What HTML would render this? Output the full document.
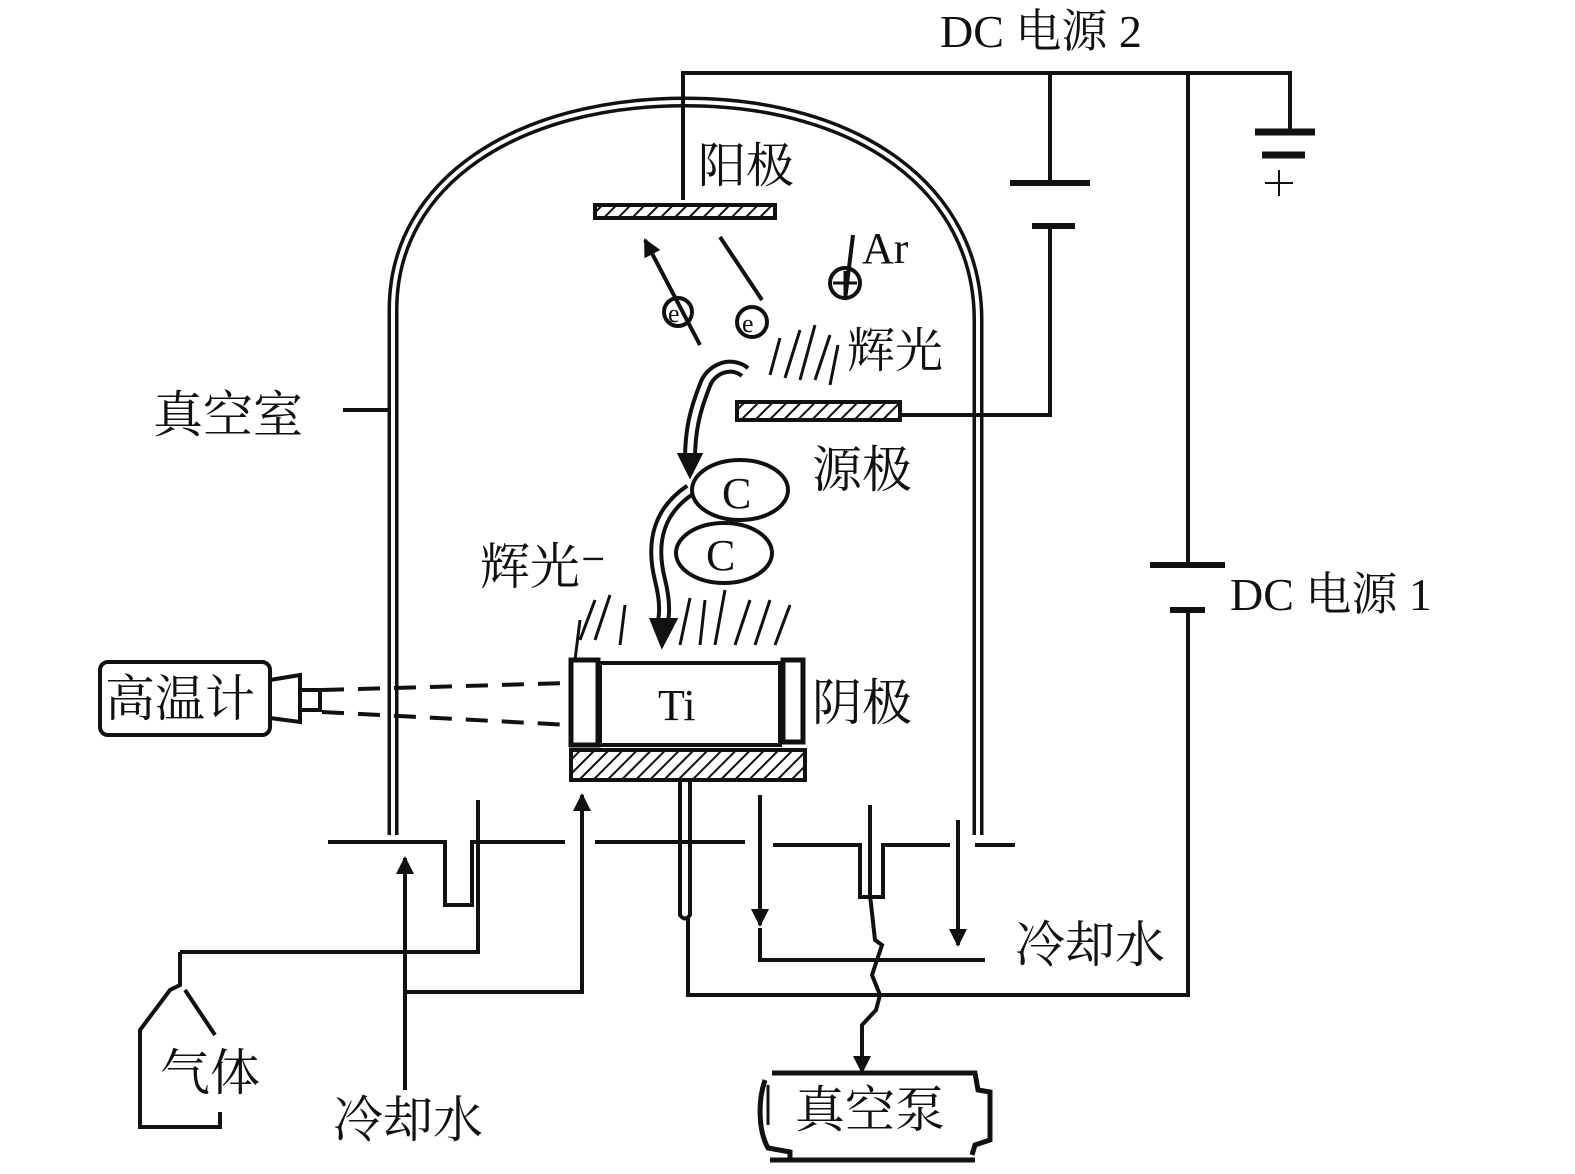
<!DOCTYPE html>
<html><head><meta charset="utf-8"><style>
html,body{margin:0;padding:0;background:#fff;}
svg{display:block}
text{font-family:"Liberation Serif","Noto Serif CJK SC",serif;fill:#111}
</style></head><body>
<svg width="1575" height="1174" viewBox="0 0 1575 1174" xmlns="http://www.w3.org/2000/svg">
<defs>
<pattern id="h" width="10" height="10" patternUnits="userSpaceOnUse" patternTransform="rotate(45)">
<rect width="10" height="10" fill="#fff"/><line x1="0" y1="0" x2="0" y2="10" stroke="#111" stroke-width="4"/></pattern>
<marker id="a" markerUnits="userSpaceOnUse" markerWidth="20" markerHeight="20" refX="16" refY="9" orient="auto"><path d="M0,0 L18,9 L0,18 z" fill="#111"/></marker>
</defs>
<g fill="none" stroke="#111" stroke-width="4">
<!-- dome -->
<path d="M393,835 L393,310 C393,180 520,102 685,102 C860,102 978,190 978,320 L978,835" stroke-width="11"/>
<path d="M393,835 L393,310 C393,180 520,102 685,102 C860,102 978,190 978,320 L978,835" stroke="#fff" stroke-width="4"/>
<!-- base line -->
<path d="M328,842 L445,842 L445,905 L472,905 L472,842 L565,842"/>
<path d="M478,800 L478,952 L180,952"/>
<path d="M595,842 L745,842"/>
<path d="M773,845 L860,845 L860,897 L883,897 L883,845 L950,845"/>
<path d="M975,845 L1015,845"/>
<path d="M870,805 L870,895"/>
<!-- top wires -->
<path d="M683,200 L683,73 L1290,73 L1290,130"/>
<path d="M1050,73 L1050,183"/>
<path d="M1010,183 L1090,183" stroke-width="6"/>
<path d="M1032,226 L1075,226" stroke-width="6"/>
<path d="M1050,226 L1050,415 L900,415"/>
<path d="M1188,73 L1188,565"/>
<path d="M1150,565 L1225,565" stroke-width="6"/>
<path d="M1170,610 L1205,610" stroke-width="6"/>
<path d="M1188,610 L1188,995 L688,995 L688,918"/>
<path d="M1255,132 L1315,132" stroke-width="7"/>
<path d="M1262,155 L1305,155" stroke-width="7"/>
<path d="M1265,183 L1293,183 M1279,170 L1279,196" stroke-width="2"/>
<!-- vacuum label line -->
<path d="M343,410 L390,410"/>
<!-- electrons/arrows -->
<path d="M700,345 L645,240" marker-end="url(#a)"/>
<path d="M762,300 L720,237"/>
<path d="M845,300 L853,235"/>
<circle cx="678" cy="312" r="14"/><text x="668" y="322" font-size="26" stroke="none">e</text>
<circle cx="752" cy="322" r="15"/><text x="742" y="332" font-size="26" stroke="none">e</text>
<circle cx="845" cy="283" r="15"/><path d="M833,283 L857,283 M845,271 L845,295" stroke-width="3"/>
<!-- glow strokes -->
<path d="M770,375 L780,338 M785,378 L800,330 M800,380 L815,325 M815,380 L830,335 M830,385 L838,345" stroke-width="3"/>
<path d="M580,640 L595,600 M595,640 L610,595 M620,645 L625,605 M680,645 L690,598 M700,645 L705,600 M715,645 L725,590 M735,645 L750,600 M755,645 L770,600 M775,645 L790,605 M575,660 L580,620" stroke-width="3"/>
<!-- curved flows -->
<path d="M745,372 C730,360 710,370 705,385 C695,410 690,430 690,460" stroke-width="14"/>
<path d="M745,372 C730,360 710,370 705,385 C695,410 690,430 690,460" stroke="#fff" stroke-width="6"/>
<path d="M680,455 L700,455 L690,475 z" fill="#111"/>
<path d="M690,490 C660,510 650,540 660,580 C665,600 665,615 662,625" stroke-width="14"/>
<path d="M690,490 C660,510 650,540 660,580 C665,600 665,615 662,625" stroke="#fff" stroke-width="6"/>
<path d="M652,620 L675,620 L662,645 z" fill="#111"/>
<ellipse cx="740" cy="490" rx="48" ry="30"/>
<ellipse cx="724" cy="553" rx="48" ry="30"/>
<!-- electrodes -->
<rect x="595" y="205" width="180" height="13" fill="url(#h)"/>
<rect x="737" y="402" width="163" height="18" fill="url(#h)"/>
<!-- Ti -->
<rect x="600" y="663" width="180" height="82"/>
<rect x="571" y="660" width="27" height="85" stroke-width="5"/>
<rect x="783" y="660" width="20" height="82" stroke-width="5"/>
<rect x="571" y="750" width="234" height="30" fill="url(#h)"/>
<!-- pyrometer -->
<rect x="100" y="662" width="170" height="73" rx="8"/>
<path d="M270,680 L300,675 L300,722 L270,718 M300,690 L320,690 L320,710 L300,710"/>
<path d="M322,690 L570,683 M322,712 L570,725" stroke-dasharray="22,14"/>
<!-- cooling water left -->
<path d="M405,1090 L405,858" marker-end="url(#a)"/>
<path d="M405,992 L582,992 L582,795" marker-end="url(#a)"/>
<!-- gas bottle -->
<path d="M180,952 L180,985 L170,990 L140,1030 L140,1127 L220,1127 L220,1112 M185,990 L215,1035"/>
<!-- cathode stem -->
<path d="M680,780 L680,915 Q685,922 690,915 L690,780"/>
<path d="M760,795 L760,925" marker-end="url(#a)"/>
<path d="M760,928 L760,960 L985,960"/>
<path d="M958,820 L958,945" marker-end="url(#a)"/>
<path d="M870,895 L875,940 L882,945 L872,975 L880,995 L876,1010 L862,1025 L862,1072" marker-end="url(#a)"/>
<!-- vacuum pump -->
<path d="M772,1073 L975,1073 L978,1090 L990,1092 L990,1140 L975,1145 L972,1155 M765,1080 C758,1100 758,1130 768,1148 L790,1152 L790,1160 M770,1160 L975,1160" stroke-width="5"/>
<path d="M768,1085 L768,1125" stroke-width="3"/>
</g>
<g stroke="none">
<text x="940" y="47" font-size="46">DC 电源 2</text>
<text x="698" y="182" font-size="48">阳极</text>
<text x="862" y="263" font-size="44">Ar</text>
<text x="847" y="367" font-size="48">辉光</text>
<text x="153" y="432" font-size="50">真空室</text>
<text x="812" y="487" font-size="50">源极</text>
<text x="722" y="508" font-size="44">C</text>
<text x="706" y="570" font-size="44">C</text>
<text x="480" y="584" font-size="50">辉光⁻</text>
<text x="1230" y="610" font-size="46">DC 电源 1</text>
<text x="812" y="720" font-size="50">阴极</text>
<text x="658" y="720" font-size="44">Ti</text>
<text x="105" y="716" font-size="50">高温计</text>
<text x="1015" y="962" font-size="50">冷却水</text>
<text x="333" y="1137" font-size="50">冷却水</text>
<text x="160" y="1090" font-size="50">气体</text>
<text x="795" y="1127" font-size="50">真空泵</text>
</g>
</svg>
</body></html>
